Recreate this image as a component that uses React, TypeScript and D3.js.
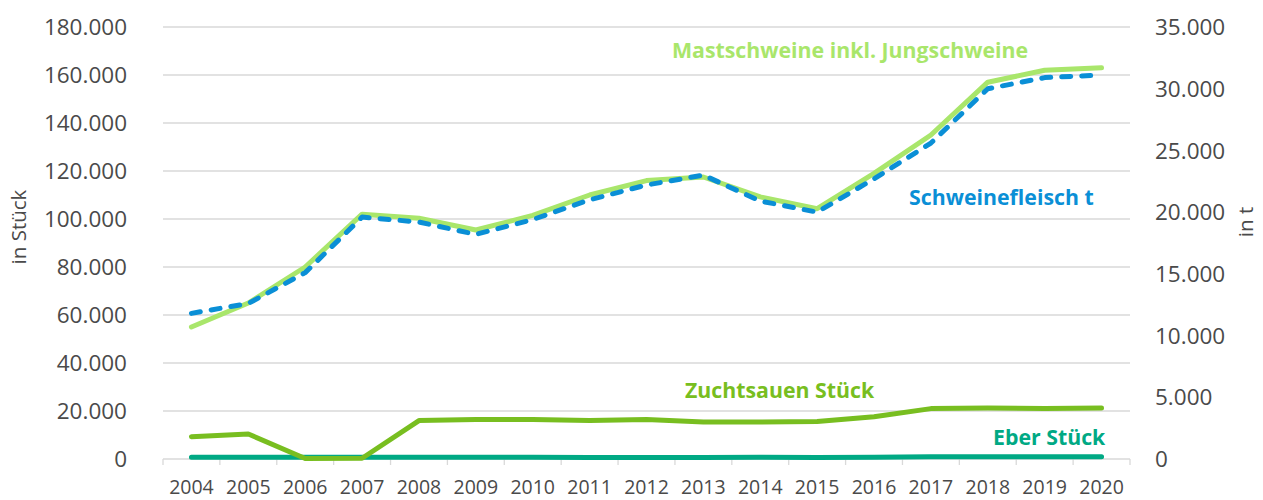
import { useEffect, useRef } from 'react';
import * as d3 from 'd3';

const years = ['2004', '2005', '2006', '2007', '2008', '2009', '2010', '2011', '2012', '2013', '2014', '2015', '2016', '2017', '2018', '2019', '2020'];

// left axis (Stück)
const mastschweine = [55000, 65000, 80000, 102000, 100300, 95400, 101500, 110000, 116000, 117500, 109200, 104300, 119000, 135000, 157000, 162000, 163000];
const zuchtsauen = [9300, 10400, 200, 300, 16000, 16500, 16500, 16000, 16500, 15400, 15400, 15600, 17600, 21000, 21200, 21000, 21200];
const eber = [700, 700, 700, 700, 700, 700, 700, 650, 650, 650, 700, 650, 750, 900, 950, 900, 900];

// right axis (t)
const schweinefleisch = [11800, 12600, 15100, 19600, 19200, 18200, 19400, 21000, 22200, 23000, 20900, 20000, 22700, 25600, 30000, 30900, 31100];

const leftTicks = [0, 20000, 40000, 60000, 80000, 100000, 120000, 140000, 160000, 180000];
const rightTicks = [0, 5000, 10000, 15000, 20000, 25000, 30000, 35000];

const W = 1263;
const H = 500;
const margin = { top: 27, right: 133, bottom: 41, left: 163 };

const fmt = (v: number) => (v === 0 ? '0' : d3.format(',')(v).replace(/,/g, '.'));

export default function App() {
  const ref = useRef<SVGSVGElement>(null);

  useEffect(() => {
    document.body.style.margin = '0';
    const svg = d3.select(ref.current);
    svg.selectAll('*').remove();

    const innerW = W - margin.left - margin.right;
    const innerH = H - margin.top - margin.bottom;
    const g = svg.append('g').attr('transform', `translate(${margin.left},${margin.top})`);

    const x = d3.scaleBand().domain(years).range([0, innerW]);
    const xc = (d: string) => (x(d) ?? 0) + x.bandwidth() / 2;
    const yL = d3.scaleLinear().domain([0, 180000]).range([innerH, 0]);
    const yR = d3.scaleLinear().domain([0, 35000]).range([innerH, 0]);

    const font = "'Open Sans', 'Noto Sans', sans-serif";
    const textColor = '#4a4a4a';

    // gridlines
    g.selectAll('line.grid')
      .data(leftTicks)
      .join('line')
      .attr('x1', 0)
      .attr('x2', innerW)
      .attr('y1', (d) => yL(d))
      .attr('y2', (d) => yL(d))
      .attr('stroke', '#d9d9d9')
      .attr('stroke-width', 1.3);

    // x tick marks at category boundaries
    const bounds = years.map((d) => x(d) ?? 0).concat([innerW]);
    g.selectAll('line.xt')
      .data(bounds)
      .join('line')
      .attr('x1', (d) => d)
      .attr('x2', (d) => d)
      .attr('y1', innerH)
      .attr('y2', innerH + 6)
      .attr('stroke', '#d9d9d9')
      .attr('stroke-width', 1.3);

    // left tick labels
    g.selectAll('text.yl')
      .data(leftTicks)
      .join('text')
      .attr('x', -36)
      .attr('y', (d) => yL(d))
      .attr('dy', '0.36em')
      .attr('text-anchor', 'end')
      .attr('font-family', font)
      .attr('font-size', 22.5)
      .attr('fill', textColor)
      .text((d) => fmt(d));

    // right tick labels
    g.selectAll('text.yr')
      .data(rightTicks)
      .join('text')
      .attr('x', innerW + 25)
      .attr('y', (d) => yR(d))
      .attr('dy', '0.36em')
      .attr('text-anchor', 'start')
      .attr('font-family', font)
      .attr('font-size', 22.5)
      .attr('fill', textColor)
      .text((d) => fmt(d));

    // x labels
    g.selectAll('text.xl')
      .data(years)
      .join('text')
      .attr('x', (d) => xc(d))
      .attr('y', innerH + 35)
      .attr('text-anchor', 'middle')
      .attr('font-family', font)
      .attr('font-size', 19.5)
      .attr('fill', textColor)
      .text((d) => d);

    // axis titles
    svg.append('text')
      .attr('transform', 'translate(26,227) rotate(-90)')
      .attr('text-anchor', 'middle')
      .attr('font-family', font)
      .attr('font-size', 20.5)
      .attr('fill', textColor)
      .text('in Stück');
    svg.append('text')
      .attr('transform', 'translate(1253,222) rotate(-90)')
      .attr('text-anchor', 'middle')
      .attr('font-family', font)
      .attr('font-size', 20.5)
      .attr('fill', textColor)
      .text('in t');

    const lineL = d3.line<number>().x((_, i) => xc(years[i])).y((d) => yL(d));
    const lineR = d3.line<number>().x((_, i) => xc(years[i])).y((d) => yR(d));

    const series = [
      { data: eber, line: lineL, color: '#00a984', dash: null },
      { data: zuchtsauen, line: lineL, color: '#78be20', dash: null },
      { data: mastschweine, line: lineL, color: '#a9e66b', dash: null },
      { data: schweinefleisch, line: lineR, color: '#0a8fd6', dash: '9,11' },
    ];
    series.forEach((s) => {
      g.append('path')
        .datum(s.data)
        .attr('d', s.line)
        .attr('fill', 'none')
        .attr('stroke', s.color)
        .attr('stroke-width', 5)
        .attr('stroke-linejoin', 'round')
        .attr('stroke-linecap', 'round')
        .attr('stroke-dasharray', s.dash);
    });

    // series labels
    const labels = [
      { text: 'Mastschweine inkl. Jungschweine', x: 672, y: 58, color: '#a9e66b' },
      { text: 'Schweinefleisch t', x: 909, y: 205, color: '#0a8fd6' },
      { text: 'Zuchtsauen Stück', x: 685, y: 398, color: '#78be20' },
      { text: 'Eber Stück', x: 993, y: 445, color: '#00a984' },
    ];
    svg.selectAll('text.lab')
      .data(labels)
      .join('text')
      .attr('x', (d) => d.x)
      .attr('y', (d) => d.y)
      .attr('font-family', font)
      .attr('font-weight', 'bold')
      .attr('font-size', 21.3)
      .attr('fill', (d) => d.color)
      .text((d) => d.text);
  }, []);

  return <svg ref={ref} width={W} height={H} style={{ display: 'block', background: '#fff' }} />;
}
